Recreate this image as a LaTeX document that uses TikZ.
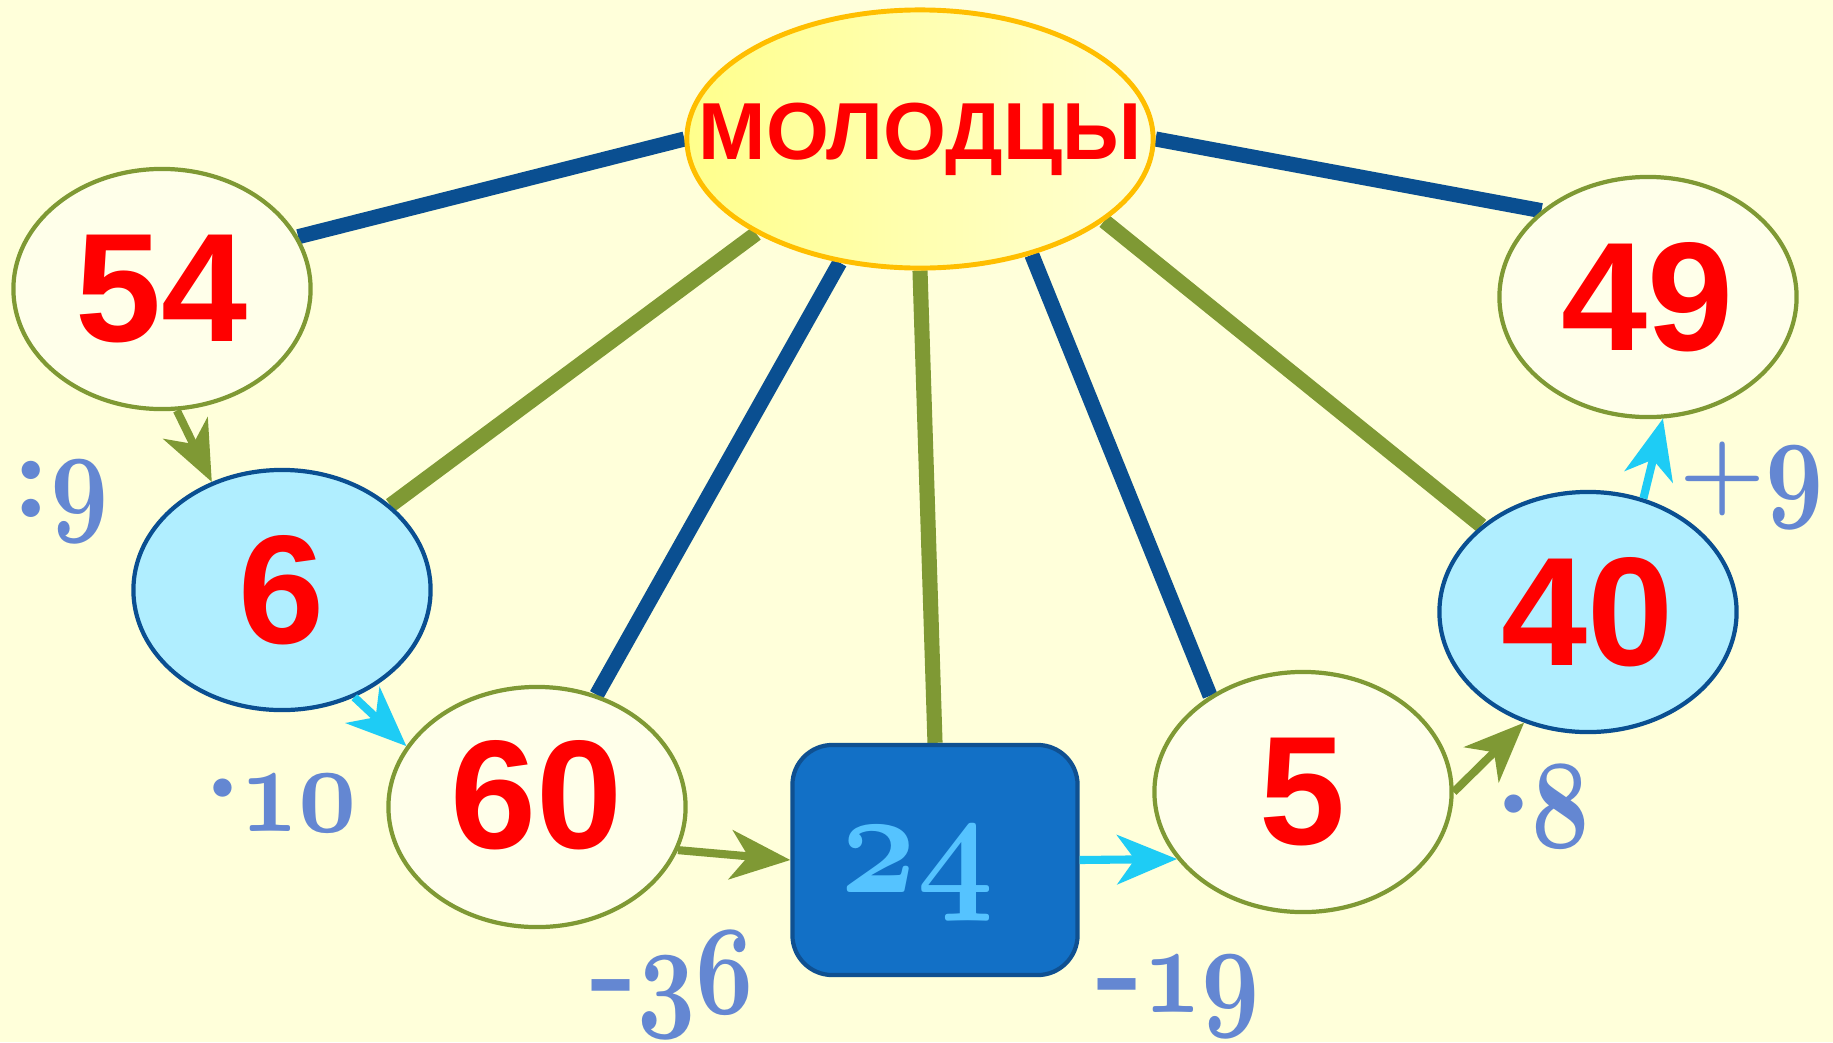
\documentclass[tikz,border=0pt]{standalone}
\usepackage{fontspec}
\newfontfamily\numfont{Liberation Sans}
\usetikzlibrary{shapes.geometric,arrows.meta}
\definecolor{paper}{RGB}{255,255,218}
\definecolor{cream}{RGB}{255,255,234}
\definecolor{olive}{RGB}{127,153,52}
\definecolor{navy}{RGB}{10,79,145}
\definecolor{skyfill}{RGB}{176,238,255}
\definecolor{cyanarrow}{RGB}{30,204,245}
\definecolor{boxblue}{RGB}{18,112,198}
\definecolor{boxline}{RGB}{15,80,145}
\definecolor{boxtext}{RGB}{85,195,255}
\definecolor{opblue}{RGB}{100,135,210}
\definecolor{molyellow}{RGB}{255,255,140}
\definecolor{molpale}{RGB}{255,255,212}
\definecolor{molline}{RGB}{255,190,0}
\font\opdigitfont=cmmib10 at 36pt
\font\resdigitfont=cmmib10 at 42pt
\newcommand\opdigits[1]{\scalebox{0.8}[1]{\opdigitfont #1}}
\newcommand\resdigits[1]{\scalebox{0.9}[1]{\resdigitfont #1}}
\pgfdeclarelayer{under}
\pgfsetlayers{under,main}
\tikzset{>={Stealth[length=17pt,width=14pt,inset=5pt]},
  num/.style={ellipse,draw=olive,fill=cream,line width=1.2pt,minimum width=2.97cm,minimum height=2.4cm,inner sep=0pt,text=red,font=\numfont\bfseries\fontsize{44}{44}\selectfont},
  numsky/.style={num,draw=navy,fill=skyfill},
  mol/.style={ellipse,draw=molline,line width=1.4pt,left color=molyellow,right color=molpale,minimum width=4.66cm,minimum height=2.58cm,inner sep=0pt,text=red,font=\numfont\bfseries\fontsize{23}{23}\selectfont},
  result/.style={rectangle,rounded corners=0.4cm,draw=boxline,fill=boxblue,line width=1.2pt,minimum width=2.85cm,minimum height=2.3cm,text depth=0pt,text=boxtext},
  op/.style={anchor=base,inner sep=0pt,text=opblue,font=\bfseries\fontsize{36}{36}\selectfont},
  spoke/.style={line width=4.3pt},
  oarrow/.style={->,olive,line width=2.3pt},
  carrow/.style={->,cyanarrow,line width=2.3pt}}
\begin{document}
\begin{tikzpicture}[x=0.01cm,y=-0.01cm]
\useasboundingbox (0,0) rectangle (1833,1042);
\begin{pgfonlayer}{under}
\fill[paper] (0,0) rectangle (1833,1042);
\end{pgfonlayer}
\node[mol] (mol) at (920,139) {\makebox[0pt]{МОЛОДЦЫ}};
\node[num] (n54) at (162,289) {54};
\node[numsky] (n6) at (282,590) {6};
\node[num] (n60) at (537,807) {\raisebox{0.26cm}{60}};
\node[result] (res) at (935,860) {\resdigits{24}\hspace*{0.36cm}};
\node[num] (n5) at (1303,792) {5};
\node[numsky] (n40) at (1588,612) {40};
\node[num] (n49) at (1648,297) {49};
\node[op] (d9) at (60,517) {:\opdigits{9}};
\node[op] (m10) at (262,831) {·\kern-0.3em\opdigits{10}};
\node[op] (s36) at (672,1013) {-\opdigits{36}};
\node[op] (s19) at (1178,1012) {-\opdigits{19}};
\node[op] (m8) at (1524,847) {·\kern-0.3em\opdigits{8}};
\node[op] (p9) at (1752,503) {{\fontsize{28}{28}\selectfont+}\opdigits{9}};
\begin{pgfonlayer}{under}
\draw[spoke,navy] (mol.west) -- (n54.21);
\draw[spoke,olive] (mol.210) -- (n6.38);
\draw[spoke,navy] (mol.237) -- (n60.62);
\draw[spoke,olive] (mol.south) -- (res.north);
\draw[spoke,navy] (mol.314) -- (n5.134);
\draw[spoke,olive] (mol.336) -- (n40.141);
\draw[spoke,navy] (mol.east) -- (n49.141);
\end{pgfonlayer}
\draw[oarrow] (n54.-83) -- (n6.123);
\draw[carrow] (n6.-56) -- (n60.155);
\draw[oarrow] (n60.-17) -- (res.west);
\draw[carrow] (res.east) -- (n5.208);
\draw[oarrow] (n5.east) -- (n40.240);
\draw[carrow] (n40.64) -- (n49.-83);
\end{tikzpicture}
\end{document}
